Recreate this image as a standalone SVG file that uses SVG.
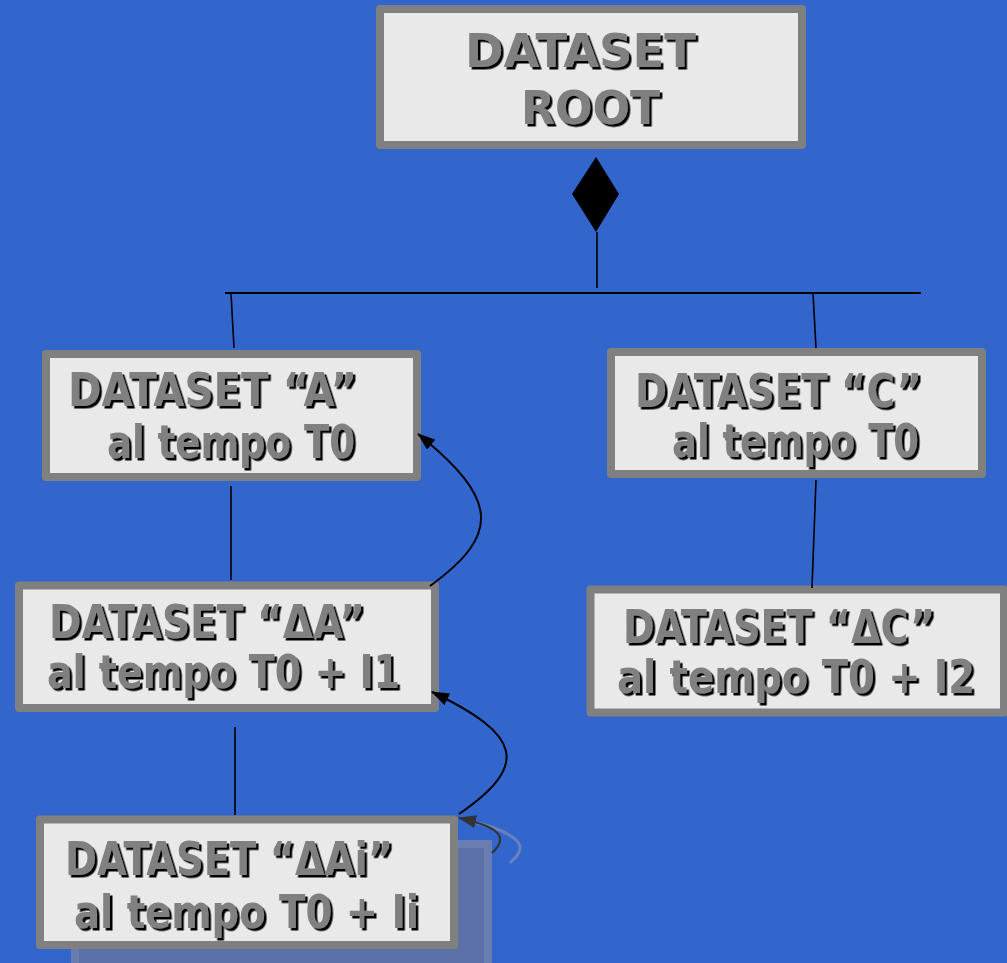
<svg xmlns="http://www.w3.org/2000/svg" width="1007" height="963" viewBox="0 0 1007 963">
<defs>
<style>
.box{fill:#e9e9e9;stroke:#808080;stroke-width:8;stroke-linejoin:round}
.lbl{font-family:"DejaVu Sans Condensed","DejaVu Sans","Liberation Sans",sans-serif;font-stretch:condensed;font-weight:bold;font-size:46px;fill:#808080;filter:url(#sh)}
.ln{stroke:#000;stroke-width:1.6;fill:none}
.arr{stroke:#000;stroke-width:2;fill:none;marker-end:url(#ah)}
</style>
<filter id="sh" x="-5%" y="-20%" width="110%" height="150%">
<feDropShadow dx="2.5" dy="2.5" stdDeviation="0" flood-color="#000" flood-opacity="1"/>
</filter>
<marker id="ah" viewBox="0 0 18 13" refX="17" refY="6.5" markerWidth="18" markerHeight="13" markerUnits="userSpaceOnUse" orient="auto">
<path d="M0,0 L18,6.5 L0,13 Z" fill="#000"/>
</marker>
<marker id="ah2" viewBox="0 0 18 13" refX="17" refY="6.5" markerWidth="18" markerHeight="13" markerUnits="userSpaceOnUse" orient="auto">
<path d="M0,0 L18,6.5 L0,13 Z" fill="#333"/>
</marker>
</defs>
<rect x="0" y="0" width="1007" height="963" fill="#3266cc"/>

<g id="ghost">
<rect x="75" y="844" width="413" height="130" fill="#5b71a8" stroke="#6a7db0" stroke-width="8"/>
<path d="M477,823 C500,828 518,838 520,846 C521,853 515,858 510,863" fill="none" stroke="#6a82bc" stroke-width="3"/>
</g>

<g id="root">
<rect class="box" x="380" y="9" width="422" height="136"/>
<text class="lbl" x="465" y="67" font-size="50" textLength="231" lengthAdjust="spacingAndGlyphs">DATASET</text>
<text class="lbl" x="521" y="124" font-size="50" textLength="139" lengthAdjust="spacingAndGlyphs">ROOT</text>
</g>

<g id="dsA">
<rect class="box" x="46" y="354" width="371" height="123"/>
<text class="lbl" x="68" y="406" textLength="289" lengthAdjust="spacingAndGlyphs">DATASET “A”</text>
<text class="lbl" x="107" y="458" textLength="248" lengthAdjust="spacingAndGlyphs">al tempo T0</text>
</g>

<g id="dsC">
<rect class="box" x="611" y="352" width="371" height="122"/>
<text class="lbl" x="635" y="407" textLength="287" lengthAdjust="spacingAndGlyphs">DATASET “C”</text>
<text class="lbl" x="672" y="457" textLength="247" lengthAdjust="spacingAndGlyphs">al tempo T0</text>
</g>

<g id="dsDA">
<rect class="box" x="19" y="585.5" width="416" height="122.5"/>
<text class="lbl" x="49" y="638" textLength="316" lengthAdjust="spacingAndGlyphs">DATASET “ΔA”</text>
<text class="lbl" x="47" y="688" textLength="353" lengthAdjust="spacingAndGlyphs">al tempo T0 + I1</text>
</g>

<g id="dsDC">
<rect class="box" x="590.5" y="589.5" width="413.5" height="123"/>
<text class="lbl" x="623" y="643" textLength="312" lengthAdjust="spacingAndGlyphs">DATASET “ΔC”</text>
<text class="lbl" x="617" y="693" textLength="358" lengthAdjust="spacingAndGlyphs">al tempo T0 + I2</text>
</g>

<g id="dsDAi">
<rect class="box" x="40" y="819.5" width="414" height="125.5"/>
<text class="lbl" x="65" y="875" textLength="328" lengthAdjust="spacingAndGlyphs">DATASET “ΔAi”</text>
<text class="lbl" x="74" y="928" textLength="345" lengthAdjust="spacingAndGlyphs">al tempo T0 + Ii</text>
</g>

<g id="connectors">
<polygon points="596,157 619,194 596,232 572,194" fill="#000"/>
<line class="ln" x1="597" y1="232" x2="597" y2="288"/>
<line x1="225" y1="293" x2="921" y2="293" stroke="#000" stroke-width="2"/>
<line class="ln" x1="231" y1="293" x2="234" y2="348"/>
<line class="ln" x1="813" y1="293" x2="816" y2="348"/>
<line class="ln" x1="816" y1="480" x2="812" y2="588"/>
<line class="ln" x1="231" y1="486" x2="231" y2="580"/>
<line class="ln" x1="235" y1="727" x2="235" y2="815"/>
<path class="arr" d="M430,586 C500,535 500,500 418,434"/>
<path class="arr" d="M459,814 C530,765 522,735 432,692"/>
<path d="M492,853 C506,840 506,828 459,818" fill="none" stroke="#333" stroke-width="2.2" marker-end="url(#ah2)"/>
</g>
</svg>
